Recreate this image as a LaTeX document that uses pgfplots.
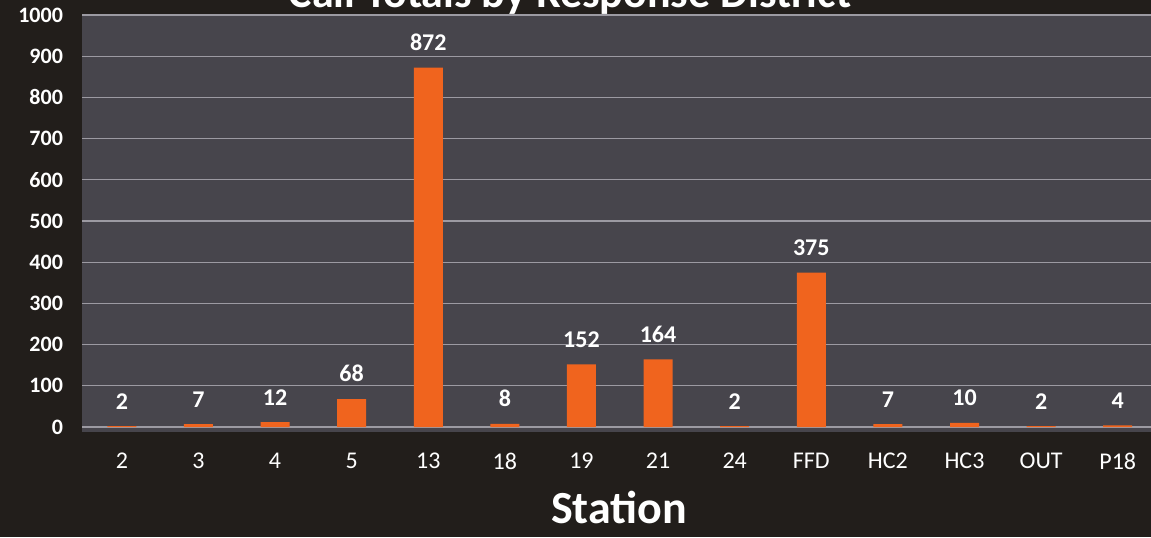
\documentclass[border=0pt]{standalone}
\usepackage{pgfplots}
\pgfplotsset{compat=1.18}
\usepackage{fontspec}
\setmainfont{Carlito}

\definecolor{outerbg}{HTML}{221E1B}
\definecolor{plotbg}{HTML}{47454C}
\definecolor{gridc}{HTML}{9C9AA2}
\definecolor{barc}{HTML}{F0641E}

\pgfplotstableread{
idx val
0 2
1 7
2 12
3 68
4 872
5 8
6 152
7 164
8 2
9 375
10 7
11 10
12 2
13 4
}\calls

\begin{document}
\begin{tikzpicture}
\fill[outerbg] (0,0) rectangle (575.5pt,268.5pt);
\begin{scope}
\clip (0,0) rectangle (575.5pt,268.5pt);
\begin{axis}[
    at={(41pt,52.5pt)}, anchor=south west,
    scale only axis,
    width=537pt, height=208.5pt,
    xmin=-0.52, xmax=13.5,
    ymin=-12, ymax=1000,
    ytick={0,100,...,1000},
    xtick=data,
    xticklabels={2,3,4,5,13,18,19,21,24,FFD,HC2,HC3,OUT,P18},
    axis line style={draw=none},
    tick style={draw=none},
    axis background/.style={fill=plotbg},
    ymajorgrids,
    grid style={gridc, line width=0.6pt},
    /pgf/number format/assume math mode=true,
    /pgf/number format/1000 sep={},
    yticklabel style={font=\bfseries\fontsize{11}{11}\selectfont, text=white, xshift=-6pt},
    xticklabel style={font=\fontsize{12}{12}\selectfont, text=white, yshift=-7pt},
    xlabel={Station},
    xlabel style={font=\bfseries\fontsize{23}{23}\selectfont, text=white, yshift=-4pt},
    nodes near coords,
    every node near coord/.append style={font=\bfseries\fontsize{12}{12}\selectfont, text=white, anchor=south, yshift=5pt},
]
\addplot[ybar, bar width=14.5pt, fill=barc, draw=none] table[x=idx, y=val] {\calls};
\end{axis}
\node[anchor=base, text=white, font=\bfseries\fontsize{22}{22}\selectfont] at (285pt,264.5pt) {Call Totals by Response District};
\end{scope}
\pgfresetboundingbox
\useasboundingbox (0,0) rectangle (575.5pt,268.5pt);
\end{tikzpicture}
\end{document}
